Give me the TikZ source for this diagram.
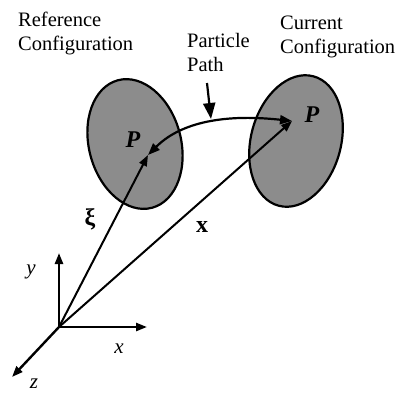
\documentclass[tikz,border=0pt]{standalone}
\usepackage{fontspec}
\setmainfont{Liberation Serif}
\usetikzlibrary{arrows.meta}
\begin{document}
\begin{tikzpicture}[x=1pt,y=-1pt,
  lbl/.style={inner sep=0pt, anchor=base west, font=\fontsize{20.5}{23.5}\selectfont, align=left},
  sym/.style={inner sep=0pt, font=\fontsize{21}{21}\selectfont},
  bigsym/.style={inner sep=0pt, font=\fontsize{24}{24}\selectfont},
  blob/.style={draw, line width=2.2pt, fill=black!45},
  vec/.style={line width=2pt, -{Triangle[length=11pt,width=8pt]}},
  axisarrow/.style={line width=2.4pt, -{Triangle[length=11pt,width=8pt]}},
  pathline/.style={line width=2.2pt, {Triangle[length=12pt,width=9pt]}-{Triangle[length=12pt,width=9pt]}},
  pointer/.style={line width=2.2pt, -{Triangle[length=16pt,width=12pt]}}]
\useasboundingbox (0,0) rectangle (399,392);

% bodies
\draw[blob] (135,144) ellipse [x radius=46pt, y radius=66pt, rotate=15];
\draw[blob] (296,141) ellipse [x radius=45pt, y radius=67pt, rotate=-15];

% points
\coordinate (Pl) at (148,155);
\coordinate (Pr) at (292,121);
\coordinate (O) at (59,327);
\coordinate (Ye) at (59,253);
\coordinate (Xe) at (147,327);
\coordinate (Ze) at (12,377);
\coordinate (Ptop) at (207,83);
\coordinate (Ptip) at (211,119);

% axes
\draw[axisarrow] (O) -- (Ye);
\draw[axisarrow] (O) -- (Xe);
\draw[axisarrow] (O) -- (Ze);

% position vectors
\draw[vec] (O) -- (Pl);
\draw[vec] (O) -- (Pr);

% particle path
\draw[pathline] (Pl) .. controls (178,125) and (218,113) .. (Pr);
\draw[pointer] (Ptop) -- (Ptip);

% labels
\node[lbl] (ref) at (18,50) {Reference\\Configuration};
\node[lbl] (cur) at (280,53) {Current\\Configuration};
\node[lbl] (pp) at (187,71) {Particle\\Path};

\node[bigsym] (Pla) at (133,140) {\textbf{\textit{P}}};
\node[bigsym] (Pra) at (312,115) {\textbf{\textit{P}}};
\node[bigsym] (xi) at (90,219) {\textbf{ξ}};
\node[bigsym] (xv) at (202,227) {\textbf{x}};
\node[sym] (yl) at (31,272) {\textit{y}};
\node[sym] (xl) at (119,349) {\textit{x}};
\node[sym] (zl) at (34,384) {\textit{z}};
\end{tikzpicture}
\end{document}
